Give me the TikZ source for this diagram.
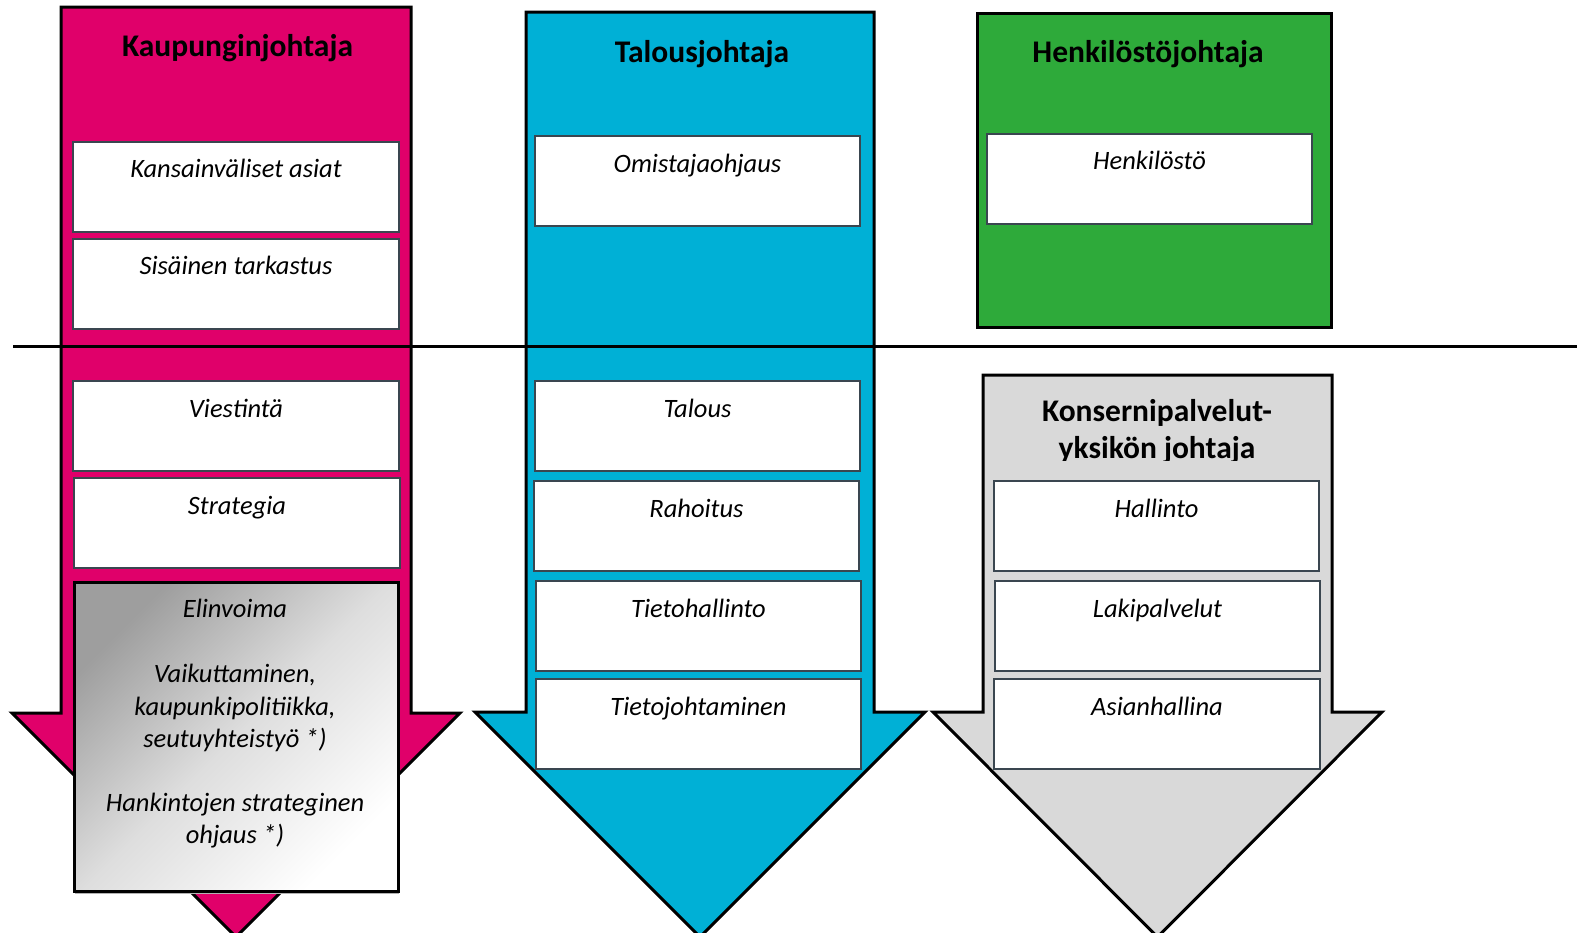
\documentclass[tikz,border=0pt]{standalone}
\usepackage{fontspec}
\setmainfont{Carlito}
\definecolor{pinkc}{RGB}{224,0,106}
\definecolor{bluec}{RGB}{0,176,214}
\definecolor{greenc}{RGB}{46,170,58}
\definecolor{grayc}{RGB}{217,217,217}
\definecolor{boxline}{RGB}{58,70,80}
\begin{document}
\begin{tikzpicture}[x=1pt,y=-1pt,
  arrowshape/.style={draw=black, line width=3pt, line join=miter},
  itembox/.style={draw=boxline, line width=2pt, fill=white, anchor=north west,
    minimum width=#1, minimum height=90pt, inner sep=0pt, outer sep=0pt},
  itembox/.default=326pt,
  itemtext/.style={anchor=base, inner sep=0pt, font=\fontsize{26.5}{32.5}\selectfont\itshape},
  titletext/.style={anchor=base, inner sep=0pt, font=\fontsize{31.5}{37}\selectfont\bfseries}]
\useasboundingbox (0,0) rectangle (1577,932);
\begin{scope}
\clip (0,0) rectangle (1577,932);
% arrows
\path[arrowshape, fill=pinkc] (61,7) -- (411,7) -- (411,713) -- (460,713) -- (236,937) -- (12,713) -- (61,713) -- cycle;
\path[arrowshape, fill=bluec] (526,12) -- (874,12) -- (874,712) -- (925,712) -- (700,937) -- (475,712) -- (526,712) -- cycle;
\path[arrowshape, fill=grayc] (983,375) -- (1332,375) -- (1332,712) -- (1382,712) -- (1157.5,937) -- (933,712) -- (983,712) -- cycle;
\end{scope}
% green box
\node[draw=black, line width=3pt, fill=greenc, anchor=north west, minimum width=354pt, minimum height=314pt, inner sep=0pt] (hr) at (976,12) {};
% separator line
\coordinate (lineL) at (13,346);
\coordinate (lineR) at (1577,346);
\draw[line width=3pt] (lineL) -- (lineR);
% titles
\node[titletext] (t1) at (237.5,56) {Kaupunginjohtaja};
\node[titletext] (t2) at (702,62) {Talousjohtaja};
\node[titletext] (t3) at (1148,62) {Henkilöstöjohtaja};
\begin{scope}
\clip (983,375) rectangle (1332,460);
\node[titletext] (t4a) at (1157,421) {Konsernipalvelut-};
\node[titletext] (t4b) at (1157,458) {yksikön johtaja};
\end{scope}
% pink items
\node[itembox] (p1) at (73,142) {};
\node[itemtext] at ([yshift=-35pt]p1.north) (p1t) {Kansainväliset asiat};
\node[itembox] (p2) at (73,239) {};
\node[itemtext] at ([yshift=-35pt]p2.north) (p2t) {Sisäinen tarkastus};
\node[itembox] (p3) at (73,381) {};
\node[itemtext] at ([yshift=-36pt]p3.north) (p3t) {Viestintä};
\node[itembox] (p4) at (74,478) {};
\node[itemtext] at ([yshift=-36pt]p4.north) (p4t) {Strategia};
% elinvoima box
\fill[black!30] (75,585) rectangle (399,894);
\node[draw=black, line width=2.5pt, anchor=north west, minimum width=324pt, minimum height=309pt, inner sep=0pt,
  top color=black!38, bottom color=white, middle color=black!13, shading angle=45] (p5) at (73,581) {};
\node[itemtext] (e1) at (235,617) {Elinvoima};
\node[itemtext] (e2) at (235,682) {Vaikuttaminen,};
\node[itemtext] (e3) at (235,715) {kaupunkipolitiikka,};
\node[itemtext] (e4) at (235,747) {seutuyhteistyö *)};
\node[itemtext] (e5) at (235,811) {Hankintojen strateginen};
\node[itemtext] (e6) at (235,843) {ohjaus *)};
% blue items
\node[itembox=325pt] (b1) at (535,136) {};
\node[itemtext] at ([yshift=-36pt]b1.north) (b1t) {Omistajaohjaus};
\node[itembox=325pt] (b2) at (535,381) {};
\node[itemtext] at ([yshift=-36pt]b2.north) (b2t) {Talous};
\node[itembox=325pt] (b3) at (534,481) {};
\node[itemtext] at ([yshift=-36pt]b3.north) (b3t) {Rahoitus};
\node[itembox=325pt] (b4) at (536,581) {};
\node[itemtext] at ([yshift=-36pt]b4.north) (b4t) {Tietohallinto};
\node[itembox=325pt] (b5) at (536,679) {};
\node[itemtext] at ([yshift=-36pt]b5.north) (b5t) {Tietojohtaminen};
% green item
\node[itembox=325pt] (g1) at (987,134) {};
\node[itemtext] at ([yshift=-35pt]g1.north) (g1t) {Henkilöstö};
% gray items
\node[itembox=325pt] (k1) at (994,481) {};
\node[itemtext] at ([yshift=-36pt]k1.north) (k1t) {Hallinto};
\node[itembox=325pt] (k2) at (995,581) {};
\node[itemtext] at ([yshift=-36pt]k2.north) (k2t) {Lakipalvelut};
\node[itembox=326pt] (k3) at (994,679) {};
\node[itemtext] at ([yshift=-36pt]k3.north) (k3t) {Asianhallina};
\end{tikzpicture}
\end{document}
